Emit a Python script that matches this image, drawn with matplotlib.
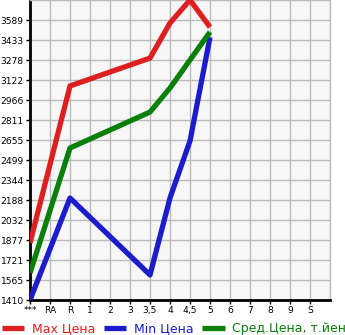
import numpy as np
import matplotlib.pyplot as plt

cats = ['***', 'RA', 'R', '1', '2', '3', '3,5', '4', '4,5', '5', '6', '7', '8', '9', 'S']
max_price = [1854, None, 3076, None, None, None, 3293, 3566, 3745, 3534, None, None, None, None, None]
min_price = [1410, None, 2204, None, None, None, 1605, 2204, 2648, 3455, None, None, None, None, None]
avg_price = [1620, None, 2593, None, None, None, 2873, 3060, None, 3496, None, None, None, None, None]

ymin, ymax = 1410, 3745
yticks = np.linspace(ymin, ymax, 16)[:-1]

fig = plt.figure(figsize=(3.45, 3.35), dpi=100)
ax = fig.add_axes([30 / 345, 35 / 335, 300 / 345, 300 / 335])
ax.set_facecolor('#f7f7f7')

def draw(vals, color):
    x = np.array([i for i, v in enumerate(vals) if v is not None])
    y = np.array([v for v in vals if v is not None])
    return ax.plot(x, y, color=color, lw=3.8, solid_capstyle='butt', zorder=3)[0]

l1 = draw(max_price, '#dd1f1f')
l2 = draw(min_price, '#1c1ccc')
l3 = draw(avg_price, '#0a800a')

ax.set_xlim(0, 15)
ax.set_ylim(ymin, ymax)
ax.set_xticks(range(len(cats)))
ax.set_xticklabels(cats)
ax.set_yticks(yticks)
ax.set_yticklabels([str(int(v)) for v in yticks])
ax.set_xticks(np.arange(0, 16), minor=True)
ax.grid(True, which='minor', axis='x', color='#bbbbbb', lw=1)
ax.grid(True, which='major', axis='both', color='#bbbbbb', lw=1)
ax.set_axisbelow(True)
ax.tick_params(axis='both', which='major', labelsize=6.6, length=3, width=1, pad=1.5)
ax.tick_params(axis='x', which='minor', length=0)
for s in ['top', 'right']:
    ax.spines[s].set_color('#bbbbbb')
    ax.spines[s].set_linewidth(1)
for s in ['left', 'bottom']:
    ax.spines[s].set_color('black')
    ax.spines[s].set_linewidth(2)

leg = fig.legend([l1, l2, l3], ['Max Цена', 'Min Цена', 'Сред.Цена, т.йен'],
                 loc='lower left', bbox_to_anchor=(-0.01, -0.015), ncol=3, frameon=False,
                 fontsize=9, handlelength=1.8, handletextpad=0.6, columnspacing=0.7,
                 borderaxespad=0)
for t, c in zip(leg.get_texts(), ['#dd1f1f', '#1c1ccc', '#0a800a']):
    t.set_color(c)

fig.savefig('out.png', dpi=100)
